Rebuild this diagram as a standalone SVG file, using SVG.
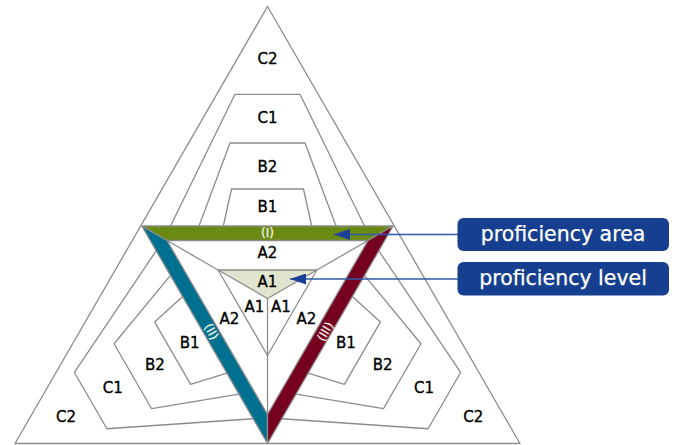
<svg xmlns="http://www.w3.org/2000/svg" xmlns:xlink="http://www.w3.org/1999/xlink" width="677" height="445" viewBox="0 0 677 445">
  <style>
    .ln { fill: none; stroke: #8c8c8c; stroke-width: 1.3; stroke-linejoin: round; }
    .band { stroke: #8c8c8c; stroke-width: 1.3; stroke-linejoin: round; }
    .lbl { font-family: "DejaVu Sans", "Liberation Sans", sans-serif; font-size: 15px; fill: #000; stroke: #000; stroke-width: 0.35; text-anchor: middle; }
    .tag { font-family: "DejaVu Sans", "Liberation Sans", sans-serif; font-size: 12px; fill: #f4f4e8; stroke: #f4f4e8; stroke-width: 0.25; text-anchor: middle; }
    .box { fill: #173f90; }
    .boxtxt { font-family: "DejaVu Sans", "Liberation Sans", sans-serif; font-size: 20.5px; fill: #ffffff; stroke: #ffffff; stroke-width: 0.25; text-anchor: middle; }
    .arrow { stroke: #2e5aa8; stroke-width: 1.5; fill: none; }
  </style>
  <defs>
    <marker id="head" markerUnits="userSpaceOnUse" viewBox="0 0 16 11" refX="16" refY="5.5" markerWidth="16" markerHeight="11" orient="auto">
      <path d="M0,0 L16,5.5 L0,11 Z" fill="#1b3f96"/>
    </marker>
    <!-- nested level outlines of one corner sector, base on the inner triangle edge -->
    <g id="levels">
      <polyline class="ln" points="223.3,226 231.5,189 303.5,189 311.7,226"/>
      <polyline class="ln" points="199,226 230,143 305,143 336,226"/>
      <polyline class="ln" points="170.5,226 235,94.3 300,94.3 364.5,226"/>
    </g>
  </defs>

  <rect width="677" height="445" fill="#ffffff"/>

  <!-- outer triangle -->
  <g id="outer">
    <polygon class="ln" points="267.5,6.5 520,443.5 15,443.5"/>
  </g>

  <!-- level outlines in the three corner sectors -->
  <g id="sector-top">
    <use xlink:href="#levels"/>
  </g>
  <g id="sector-left">
    <use xlink:href="#levels" transform="rotate(-120 267.5 298.5)"/>
  </g>
  <g id="sector-right">
    <use xlink:href="#levels" transform="rotate(120 267.5 298.5)"/>
  </g>

  <!-- proficiency area bands -->
  <g id="band-I">
    <polygon class="band" fill="#6b8a12" points="141.9,226 393.1,226 368,240.5 167,240.5"/>
    <text class="tag" x="267.5" y="237.3">(I)</text>
  </g>
  <g id="band-II">
    <polygon class="band" fill="#007090" points="141.9,226 167,240.5 267.5,414.5 267.5,443.5"/>
    <text class="tag" transform="translate(211.5 331.5) rotate(60)" x="0" y="4.3">(II)</text>
  </g>
  <g id="band-III">
    <polygon class="band" fill="#760020" points="393.1,226 267.5,443.5 267.5,414.5 368,240.5"/>
    <text class="tag" transform="translate(325 331.5) rotate(-60)" x="0" y="4.3">(III)</text>
  </g>

  <!-- central levels -->
  <g id="core">
    <polygon fill="#e0e5d0" stroke="none" points="218.1,270 316.9,270 267.5,298.5"/>
    <polygon class="ln" points="218.1,270 316.9,270 267.5,355.5"/>
    <polyline class="ln" points="218.1,270 267.5,298.5 316.9,270"/>
    <line class="ln" x1="267.5" y1="298.5" x2="267.5" y2="414.5"/>
    <line class="ln" x1="167" y1="240.5" x2="218.1" y2="270"/>
    <line class="ln" x1="368" y1="240.5" x2="316.9" y2="270"/>
  </g>

  <!-- level labels -->
  <g id="labels">
    <text class="lbl" x="267.5" y="64">C2</text>
    <text class="lbl" x="267.5" y="122.7">C1</text>
    <text class="lbl" x="267.5" y="171.7">B2</text>
    <text class="lbl" x="267.5" y="211.7">B1</text>
    <text class="lbl" x="267.5" y="258.3">A2</text>
    <text class="lbl" x="267.5" y="286.7">A1</text>
    <text class="lbl" x="254.3" y="311.7">A1</text>
    <text class="lbl" x="281" y="311.7">A1</text>
    <text class="lbl" x="229.3" y="324.3">A2</text>
    <text class="lbl" x="306.3" y="324.3">A2</text>
    <text class="lbl" x="189.7" y="347.7">B1</text>
    <text class="lbl" x="346" y="347.7">B1</text>
    <text class="lbl" x="155" y="370">B2</text>
    <text class="lbl" x="382.7" y="370">B2</text>
    <text class="lbl" x="112.7" y="393.3">C1</text>
    <text class="lbl" x="424" y="393.3">C1</text>
    <text class="lbl" x="66" y="421.7">C2</text>
    <text class="lbl" x="473.3" y="421.7">C2</text>
  </g>

  <!-- pointers from the legend -->
  <g id="connectors">
    <line class="arrow" x1="458" y1="234.5" x2="334" y2="234.5" marker-end="url(#head)"/>
    <line class="arrow" x1="458" y1="279" x2="290" y2="279" marker-end="url(#head)"/>
  </g>

  <!-- legend -->
  <g id="legend-area">
    <rect class="box" x="457.5" y="218" width="211.5" height="33" rx="6"/>
    <text class="boxtxt" x="563" y="240.5">proficiency area</text>
  </g>
  <g id="legend-level">
    <rect class="box" x="457.5" y="262" width="211.5" height="33.5" rx="6"/>
    <text class="boxtxt" x="563" y="285">proficiency level</text>
  </g>
</svg>
